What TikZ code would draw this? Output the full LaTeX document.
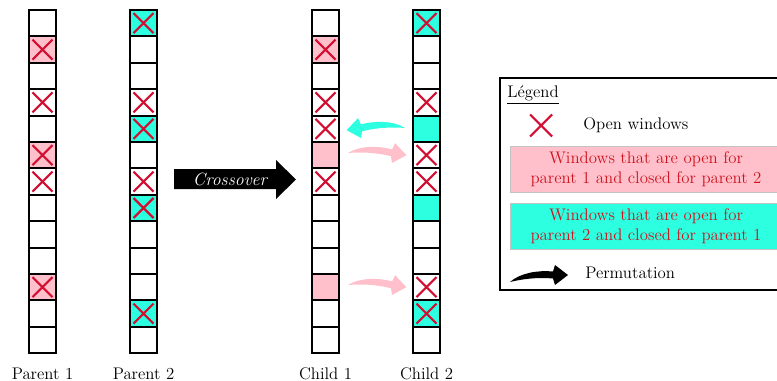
\documentclass[tikz,border=0pt]{standalone}
\usetikzlibrary{calc}
\definecolor{pinkc}{RGB}{255,192,203}
\definecolor{cyanc}{RGB}{45,255,225}
\definecolor{xred}{RGB}{210,15,50}
\definecolor{txtred}{RGB}{205,20,30}
\definecolor{boxgray}{RGB}{195,195,195}
\newcommand{\midfont}{\fontsize{12.6}{15}\selectfont}
\tikzset{
 cell/.style={draw=black, line width=1.6pt, minimum size=19.8pt, inner sep=0pt},
 xline/.style={draw=xred, line width=1.6pt},
 lbl/.style={font=\midfont, inner sep=0pt, anchor=base},
 legtxt/.style={font=\midfont, inner sep=0pt, anchor=base west},
 legbox/.style={draw=boxgray, line width=0.6pt, minimum width=204pt, minimum height=34.5pt, align=center, text=txtred, font=\midfont, inner sep=0pt},
}
\newcommand{\mkcol}[2]{\foreach \i in {0,...,12} {\node[cell] (#1-\i) at (#2,{10+26.4*(\i+0.5)}) {};}}
\newcommand{\fillcell}[3]{\fill[#3] ({#1-13.2},{10+26.4*#2}) rectangle ++(26.4,26.4);}
\newcommand{\xcell}[1]{\draw[xline] ([shift={(-10,-10)}]#1.center) -- ([shift={(10,10)}]#1.center) ([shift={(-10,10)}]#1.center) -- ([shift={(10,-10)}]#1.center);}
\newcommand{\swoosh}[1]{\fill[#1] (0,0) .. controls (10,-9) and (28,-12) .. (43,-10.5) -- (45,-17) -- (58,-7) -- (45,3) -- (43,-3.5) .. controls (28,-5) and (12,-3) .. (0,0) -- cycle;}
\begin{document}
\begin{tikzpicture}[x=0.75pt,y=-0.75pt]
\useasboundingbox (0,0) rectangle (777,381);
\clip (0,0) rectangle (777,381);
% fills
\foreach \r in {1,5,10} {\fillcell{42.5}{\r}{pinkc}}
\foreach \r in {0,4,7,11} {\fillcell{143.5}{\r}{cyanc}}
\foreach \r in {1,5,10} {\fillcell{325.5}{\r}{pinkc}}
\foreach \r in {0,4,7,11} {\fillcell{426.5}{\r}{cyanc}}
% cells
\mkcol{p1}{42.5}
\mkcol{p2}{143.5}
\mkcol{c1}{325.5}
\mkcol{c2}{426.5}
% crosses
\foreach \r in {1,3,5,6,10} {\xcell{p1-\r}}
\foreach \r in {0,3,4,6,7,11} {\xcell{p2-\r}}
\foreach \r in {1,3,4,6} {\xcell{c1-\r}}
\foreach \r in {0,3,5,6,10,11} {\xcell{c2-\r}}
% labels
\node[lbl] (lp1) at (42.5,379) {Parent 1};
\node[lbl] (lp2) at (143.5,379) {Parent 2};
\node[lbl] (lc1) at (325.5,379) {Child 1};
\node[lbl] (lc2) at (426.5,379) {Child 2};
% crossover arrow
\fill[black] (174,169) -- (276,169) -- (276,160) -- (296,179.5) -- (276,199) -- (276,189) -- (174,189) -- cycle;
\node[text=white, font=\fontsize{13.3}{15}\selectfont\itshape, inner sep=0pt] (cross) at (230,179) {Crossover};
% permutation arrows
\begin{scope}[shift={(405,128)}, rotate=9, xscale=-1]\swoosh{cyanc}\end{scope}
\begin{scope}[shift={(348,153)}, rotate=-9]\swoosh{pinkc}\end{scope}
\begin{scope}[shift={(348,285)}, rotate=-9]\swoosh{pinkc}\end{scope}
% legend
\draw[line width=1pt] (500,78) rectangle (800,290);
\node[legtxt] (leg) at (507,98) {\underline{Légend}};
\coordinate (lx) at (541,125.5);
\draw[xline] ([shift={(-11,-11)}]lx) -- ([shift={(11,11)}]lx) ([shift={(-11,11)}]lx) -- ([shift={(11,-11)}]lx);
\node[legtxt] (lopen) at (583,130) {Open windows};
\node[legbox, fill=pinkc] (lpink) at (646,169) {Windows that are open for\\parent 1 and closed for parent 2};
\node[legbox, fill=cyanc] (lcyan) at (646,226.5) {Windows that are open for\\parent 2 and closed for parent 1};
\begin{scope}[shift={(510,282)}]\swoosh{black}\end{scope}
\node[legtxt] (lperm) at (585,278) {Permutation};
\end{tikzpicture}
\end{document}
